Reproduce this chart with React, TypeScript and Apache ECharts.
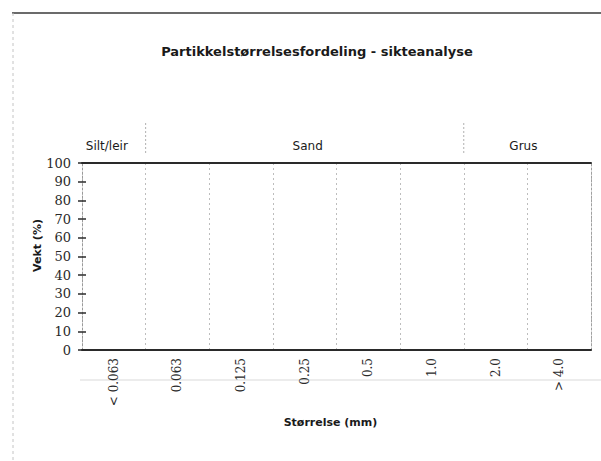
import React, { useEffect, useRef } from "react";
import * as echarts from "echarts";

const sizeCategories = ["< 0.063", "0.063", "0.125", "0.25", "0.5", "1.0", "2.0", "> 4.0"];
const weightPercent: (number | null)[] = [null, null, null, null, null, null, null, null];
const yTicks = { min: 0, max: 100, interval: 10 };
const fractionGroups = [
  { name: "Silt/leir", from: 0, to: 0 },
  { name: "Sand", from: 1, to: 5 },
  { name: "Grus", from: 6, to: 7 },
];
const titleText = "Partikkelstørrelsesfordeling - sikteanalyse";
const xTitle = "Størrelse (mm)";
const yTitle = "Vekt (%)";

const SERIF = "'DejaVu Serif', 'Liberation Serif', serif";
const SANS = "'DejaVu Sans', 'Noto Sans', sans-serif";

export default function App() {
  const ref = useRef<HTMLDivElement>(null);
  useEffect(() => {
    if (!ref.current) return;
    const chart = echarts.init(ref.current, undefined, { renderer: "svg" });
    const gridTop = 163;
    const gridBottom = 111;
    chart.setOption({
      animation: false,
      backgroundColor: "#fff",
      title: {
        text: titleText,
        left: 312,
        textAlign: "center",
        top: 40,
        textStyle: { fontFamily: SANS, fontWeight: "bold", fontSize: 13, color: "#1a1a1a" },
      },
      grid: { left: 82, right: 10, top: gridTop, bottom: gridBottom, containLabel: false },
      xAxis: [
        {
          type: "category",
          data: sizeCategories,
          position: "bottom",
          boundaryGap: true,
          axisLine: { show: true, onZero: false, lineStyle: { color: "#2a2a2a", width: 2 } },
          axisTick: { show: false },
          axisLabel: {
            rotate: 90,
            fontFamily: SERIF,
            fontSize: 12,
            color: "#2a2a2a",
            margin: 8,
          },
          splitLine: { show: true, lineStyle: { color: "#bdbdbd", type: [2, 3], width: 1 } },
          name: xTitle,
          nameLocation: "middle",
          nameGap: 67,
          nameTextStyle: { fontFamily: SANS, fontWeight: "bold", fontSize: 11, color: "#1a1a1a", padding: [0, 12, 0, 0] },
        },
        {
          type: "category",
          data: sizeCategories,
          position: "top",
          boundaryGap: true,
          axisLine: { show: true, onZero: false, lineStyle: { color: "#2a2a2a", width: 2 } },
          axisTick: { show: false },
          axisLabel: { show: false },
          splitLine: { show: false },
        },
      ],
      yAxis: [
        {
          type: "value",
          position: "left",
          min: yTicks.min,
          max: yTicks.max,
          interval: yTicks.interval,
          axisLine: { show: true, onZero: false, lineStyle: { color: "#9a9a9a", type: [2, 2], width: 1 } },
          axisTick: { show: true, length: 4, lineStyle: { color: "#2a2a2a", width: 1.5 } },
          axisLabel: { margin: 11, fontFamily: SERIF, fontSize: 13, color: "#2a2a2a" },
          splitLine: { show: false },
        },
        {
          type: "value",
          position: "left",
          min: yTicks.min,
          max: yTicks.max,
          interval: yTicks.interval,
          axisLine: { show: false, onZero: false },
          axisTick: { show: true, inside: true, length: 4, lineStyle: { color: "#2a2a2a", width: 1.5 } },
          axisLabel: { show: false },
          splitLine: { show: false },
        },
        {
          type: "value",
          position: "right",
          min: yTicks.min,
          max: yTicks.max,
          interval: yTicks.interval,
          axisLine: { show: true, onZero: false, lineStyle: { color: "#a0a0a0", type: [2, 2], width: 1 } },
          axisTick: { show: false },
          axisLabel: { show: false },
          splitLine: { show: false },
        },
      ],
      series: [
        {
          type: "line",
          xAxisIndex: 0,
          yAxisIndex: 0,
          data: weightPercent,
          symbol: "none",
          lineStyle: { color: "#333" },
        },
      ],
    });

    const bw = (chart.convertToPixel({ xAxisIndex: 0 }, 1) as number) - (chart.convertToPixel({ xAxisIndex: 0 }, 0) as number);
    const yMid = chart.convertToPixel({ yAxisIndex: 0 }, 50) as number;
    const graphics: any[] = [];
    fractionGroups.forEach((g, i) => {
      const x0 = (chart.convertToPixel({ xAxisIndex: 0 }, g.from) as number) - bw / 2;
      const x1 = (chart.convertToPixel({ xAxisIndex: 0 }, g.to) as number) + bw / 2;
      graphics.push({
        type: "text",
        x: (x0 + x1) / 2 - (i === 0 ? 7 : i === 2 ? 4 : -3),
        y: 146,
        style: {
          text: g.name,
          fontFamily: SANS,
          fontSize: 12,
          fill: "#1a1a1a",
          align: "center",
          verticalAlign: "middle",
        },
      });
      if (i > 0) {
        graphics.push({
          type: "line",
          shape: { x1: x0, y1: 123, x2: x0, y2: 154 },
          style: { stroke: "#b0b0b0", lineWidth: 1, lineDash: [2, 2] },
        });
      }
    });
    // y-axis title
    graphics.push({
      type: "text",
      x: 37,
      y: yMid - 11,
      rotation: Math.PI / 2,
      style: {
        text: yTitle,
        fontFamily: SANS,
        fontWeight: "bold",
        fontSize: 11,
        fill: "#1a1a1a",
        align: "center",
        verticalAlign: "middle",
      },
    });
    // page frame of the scanned sheet
    graphics.push({
      type: "line",
      shape: { x1: 12, y1: 13, x2: 601, y2: 13 },
      style: { stroke: "#3a3a3a", lineWidth: 1.5 },
    });
    graphics.push({
      type: "line",
      shape: { x1: 13, y1: 13, x2: 13, y2: 461 },
      style: { stroke: "#c4c4c4", lineWidth: 1, lineDash: [3, 3] },
    });
    graphics.push({
      type: "line",
      shape: { x1: 80, y1: 380, x2: 601, y2: 380 },
      style: { stroke: "#ececec", lineWidth: 2 },
      z: -1,
    });
    chart.setOption({ graphic: graphics });

    return () => chart.dispose();
  }, []);
  return <div ref={ref} style={{ width: 601, height: 461, position: "absolute", left: 0, top: 0 }} />;
}
